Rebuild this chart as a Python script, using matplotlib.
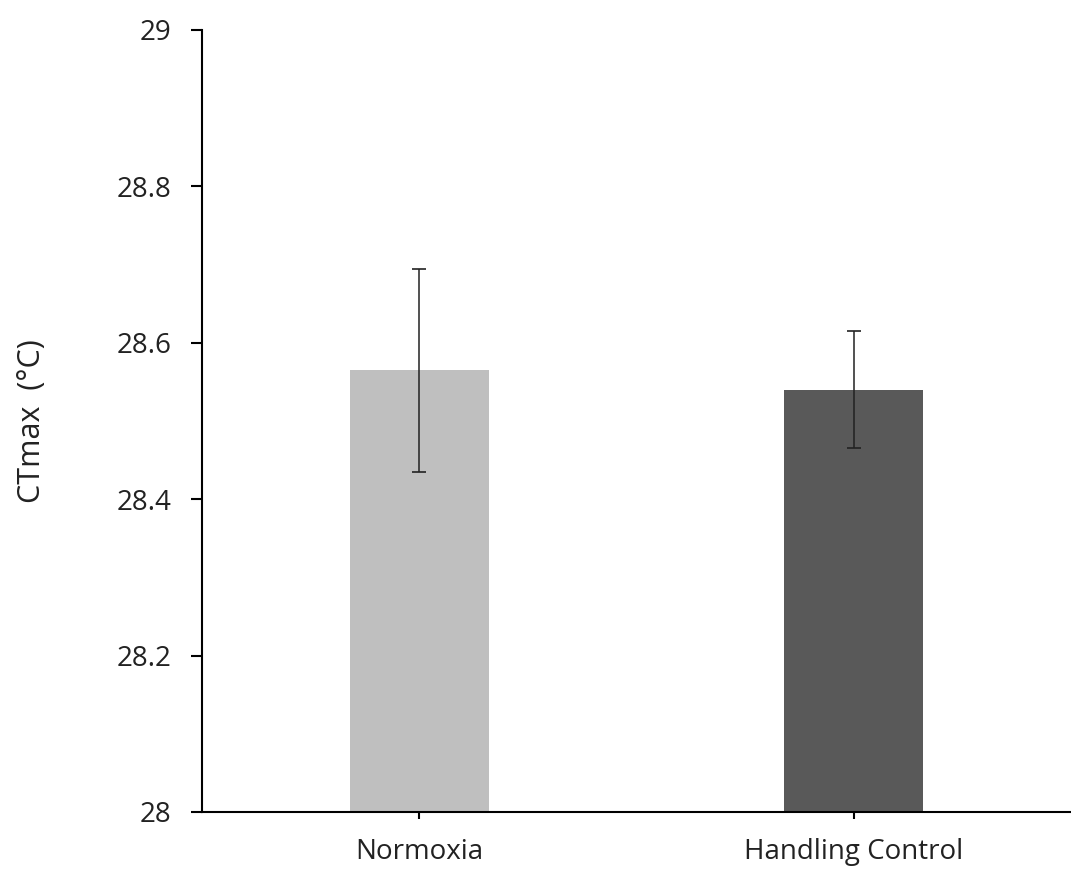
import matplotlib
matplotlib.use("Agg")
import matplotlib.pyplot as plt

# Data
categories = ["Normoxia", "Handling Control"]
ctmax = [28.565, 28.540]
errors = [0.130, 0.075]
bar_colors = ["#BFBFBF", "#595959"]

plt.rcParams["font.family"] = ["Open Sans", "DejaVu Sans"]

fig = plt.figure(figsize=(10.71, 8.69), dpi=100)
ax = fig.add_axes([202 / 1071, 57 / 869, 1 - 202 / 1071, 782 / 869])

x = range(len(categories))
ax.bar(x, [v - 28 for v in ctmax], bottom=28, width=0.32, color=bar_colors, zorder=1)
ax.errorbar(x, ctmax, yerr=errors, fmt="none", ecolor="#222222", elinewidth=1.1,
            capsize=5, capthick=1.2, zorder=2)

ax.set_xlim(-0.5, 1.5)
ax.set_ylim(28, 29)
ax.set_yticks([28, 28.2, 28.4, 28.6, 28.8, 29])
ax.set_yticklabels(["28", "28.2", "28.4", "28.6", "28.8", "29"])
ax.set_xticks(list(x))
ax.set_xticklabels(categories)

for side in ("top", "right"):
    ax.spines[side].set_visible(False)
for side in ("left", "bottom"):
    ax.spines[side].set_linewidth(1.5)
    ax.spines[side].set_color("black")

ax.tick_params(axis="y", length=8, width=1.5, labelsize=20, pad=14, colors="black")
ax.tick_params(axis="x", length=5, width=1.5, labelsize=20, pad=14, colors="black")
for lbl in ax.get_xticklabels() + ax.get_yticklabels():
    lbl.set_color("#222222")

ax.set_ylabel("CTmax  (°C)", fontsize=22, color="#222222", labelpad=50)

fig.savefig("out.png", dpi=100)
